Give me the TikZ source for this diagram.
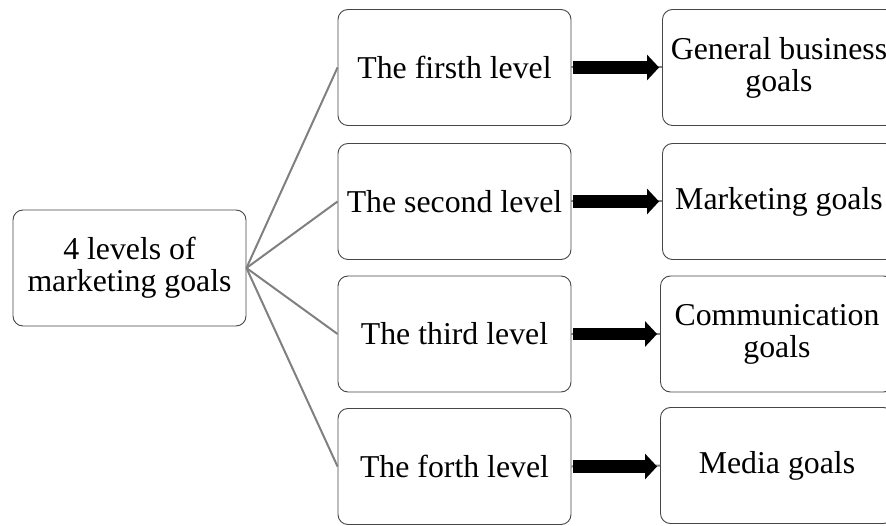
\documentclass[tikz,border=0pt]{standalone}
\usepackage{fontspec}
\setmainfont{Liberation Serif}
\usetikzlibrary{arrows.meta,calc}
\definecolor{boxline}{RGB}{70,70,70}
\definecolor{linkgray}{RGB}{128,128,128}
\tikzset{
  box/.style={draw=boxline, line width=0.9pt, rounded corners=10pt, fill=white,
    minimum width=233pt, minimum height=116pt, align=center, inner sep=2pt,
    font=\fontsize{31.8}{32}\selectfont},
  link/.style={draw=linkgray, line width=2pt},
  fatarrow/.style={line width=12.5pt, -{Triangle[length=12pt,width=25pt]}}
}
\begin{document}
\begin{tikzpicture}[x=1pt,y=-1pt]
\useasboundingbox (0,0) rectangle (886,526);
\node[box] (L) at (129.5,268) {4 levels of\\marketing goals};
\node[box] (M1) at (454.5,67.5) {The firsth level};
\node[box] (M2) at (454.5,201.5) {The second level};
\node[box] (M3) at (454.5,334) {The third level};
\node[box] (M4) at (454.5,466.5) {The forth level};
\node[box] (R1) at (779,67.5) {General business\\goals};
\node[box] (R2) at (779,201.5) {Marketing goals};
\node[box] (R3) at (777,334) {Communication\\goals};
\node[box] (R4) at (777,465.5) {Media goals};
\foreach \i in {1,2,3,4}{
  \draw[link] (L.east) -- (M\i.west);
  \draw[link] (M\i.east) -- (R\i.west);
  \draw[fatarrow] ($(M\i.east)+(1.5,0)$) -- ($(R\i.west |- M\i.east)+(-3,0)$);
}
\end{tikzpicture}
\end{document}
